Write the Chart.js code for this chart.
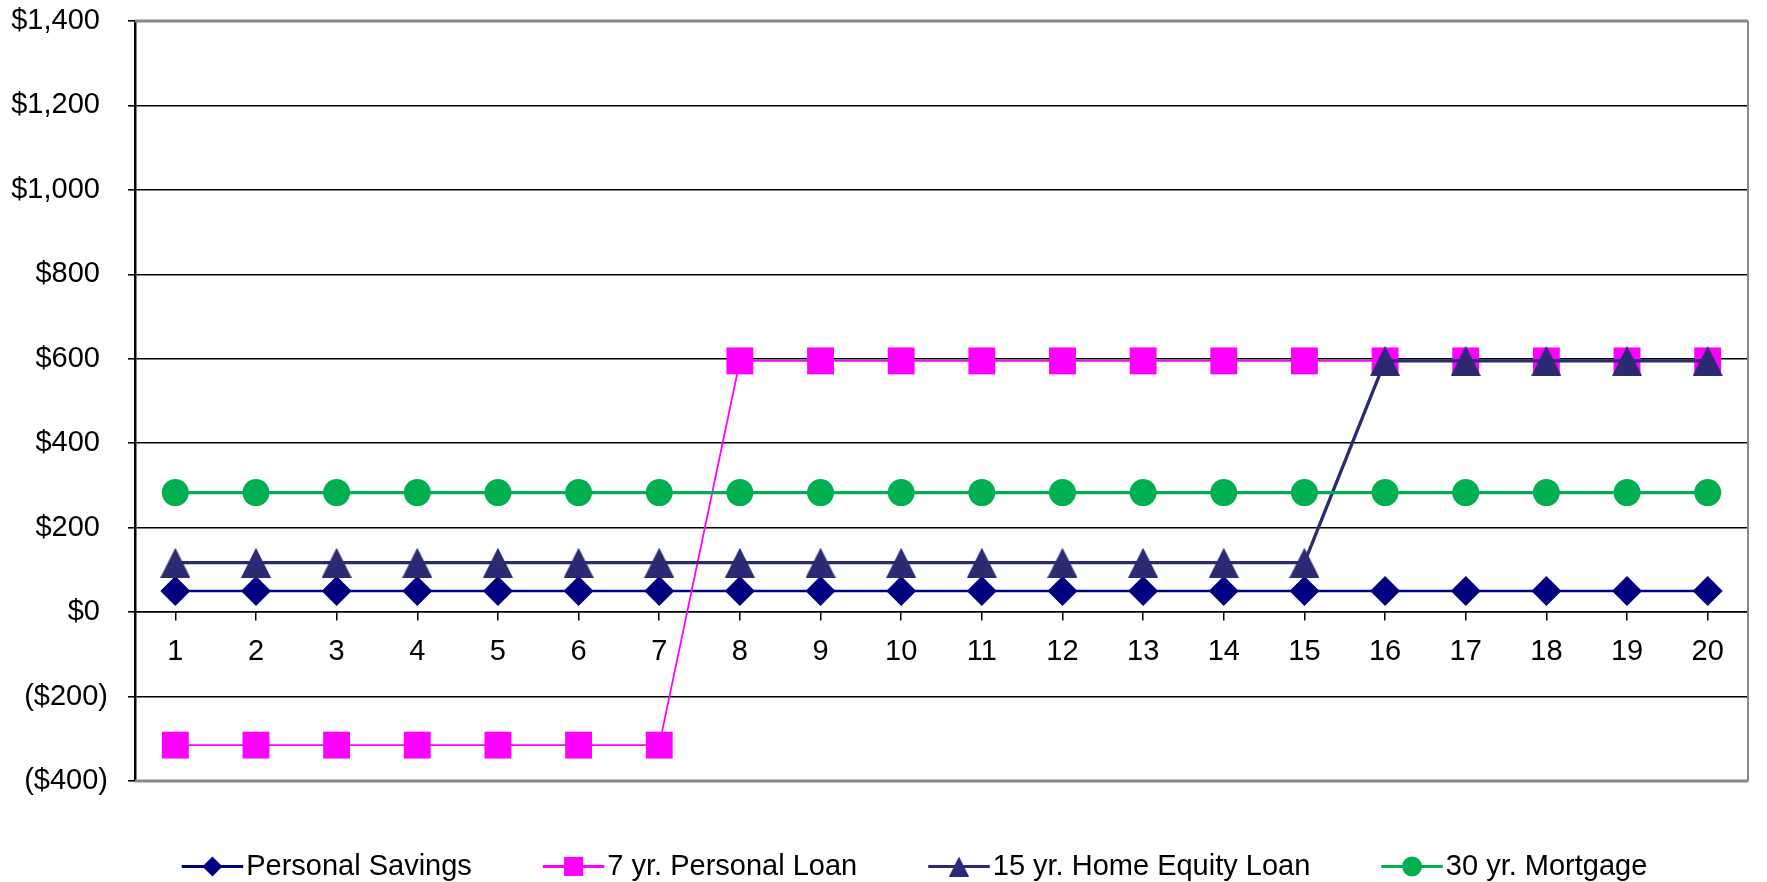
<!DOCTYPE html>
<html>
<head>
<meta charset="utf-8">
<script src="https://cdn.jsdelivr.net/npm/chart.js@4/dist/chart.umd.min.js"></script>
<style>
  html, body { margin: 0; padding: 0; background: #fff; }
  #wrap { width: 1767px; height: 882px; }
</style>
</head>
<body>
<div id="wrap"><canvas id="loanChart" width="1767" height="882"></canvas></div>
<script>
// Chart data
const years = ['1', '2', '3', '4', '5', '6', '7', '8', '9', '10',
               '11', '12', '13', '14', '15', '16', '17', '18', '19', '20'];
const personalSavings = [50, 50, 50, 50, 50, 50, 50, 50, 50, 50,
                         50, 50, 50, 50, 50, 50, 50, 50, 50, 50];
const personalLoan = [-315, -315, -315, -315, -315, -315, -315, 595, 595, 595,
                      595, 595, 595, 595, 595, 595, 595, 595, 595, 595];
const homeEquityLoan = [117, 117, 117, 117, 117, 117, 117, 117, 117, 117,
                        117, 117, 117, 117, 117, 595, 595, 595, 595, 595];
const mortgage = [283, 283, 283, 283, 283, 283, 283, 283, 283, 283,
                  283, 283, 283, 283, 283, 283, 283, 283, 283, 283];
const yTickValues = [-400, -200, 0, 200, 400, 600, 800, 1000, 1200, 1400];

const FONT = '"Liberation Sans", Arial, sans-serif';
Chart.defaults.font.family = FONT;
Chart.defaults.color = '#000';

// triangle centred on its box, like the spreadsheet marker
function triangleMarker(size, color) {
    const c = document.createElement('canvas');
    c.width = size; c.height = size;
    const g = c.getContext('2d');
    g.fillStyle = color;
    g.beginPath();
    g.moveTo(size / 2, 0);
    g.lineTo(size, size);
    g.lineTo(0, size);
    g.closePath();
    g.fill();
    return c;
}

const EQUITY_COLOR = '#2B2A73';
const triBig = triangleMarker(30, EQUITY_COLOR);
const triSmall = triangleMarker(20, EQUITY_COLOR);

// frame: gray top / bottom / right edges
const framePlugin = {
    id: 'frame',
    afterLayout(chart) {
        // legend sits a bit right of the page centre
        const lg = chart.legend;
        if (lg) { lg.left += 32; lg.right += 32; }
    },
    afterDraw(chart) {
        const { ctx, chartArea: a } = chart;
        ctx.save();
        ctx.strokeStyle = '#888';
        ctx.lineWidth = 3;
        ctx.beginPath();
        ctx.moveTo(a.left, a.top); ctx.lineTo(a.right, a.top);
        ctx.moveTo(a.left, a.bottom); ctx.lineTo(a.right, a.bottom);
        ctx.stroke();
        ctx.lineWidth = 2;
        ctx.beginPath();
        ctx.moveTo(a.right, a.top); ctx.lineTo(a.right, a.bottom);
        ctx.stroke();
        ctx.restore();
    }
};

// legend symbols: line with marker through it
const legendMarkers = [
    { style: 'rectRot', radius: 10 },
    { style: 'rect', radius: 13.5 },
    { style: triSmall, radius: 10 },
    { style: 'circle', radius: 10 }
];
const legendLinePlugin = {
    id: 'legendLines',
    afterDraw(chart) {
        const lg = chart.legend;
        if (!lg || !lg.legendHitBoxes) return;
        const ctx = chart.ctx;
        const boxW = lg.options.labels.boxWidth;
        const half = lg.options.labels.font.size / 2;
        lg.legendHitBoxes.forEach((hb, i) => {
            const ds = chart.data.datasets[i];
            const len = boxW + half - 3;
            const cy = hb.top + hb.height / 2;
            ctx.save();
            ctx.strokeStyle = ds.borderColor;
            ctx.lineWidth = 3;
            ctx.beginPath();
            ctx.moveTo(hb.left, cy);
            ctx.lineTo(hb.left + len, cy);
            ctx.stroke();
            ctx.fillStyle = ds.borderColor;
            ctx.strokeStyle = ds.borderColor;
            ctx.lineWidth = 0;
            const m = legendMarkers[i];
            Chart.helpers.drawPoint(ctx, { pointStyle: m.style, radius: m.radius, rotation: 0, borderWidth: 0 },
                hb.left + len / 2, cy);
            ctx.restore();
        });
    }
};

function money(v) {
    const s = Math.abs(v).toLocaleString('en-US');
    return v < 0 ? '($' + s + ')' : '$' + s + ' ';
}

const ctx = document.getElementById('loanChart').getContext('2d');
new Chart(ctx, {
    type: 'line',
    data: {
        labels: years,
        datasets: [
            {
                label: 'Personal Savings',
                data: personalSavings,
                borderColor: '#000080',
                backgroundColor: '#000080',
                borderWidth: 2.5,
                pointStyle: 'rectRot',
                pointRadius: 15,
                pointBorderWidth: 0,
                order: 4
            },
            {
                label: '7 yr. Personal Loan',
                data: personalLoan,
                borderColor: '#FF00FF',
                backgroundColor: '#FF00FF',
                borderWidth: 1.8,
                pointStyle: 'rect',
                pointRadius: 19,
                pointBorderWidth: 0,
                order: 3
            },
            {
                label: '15 yr. Home Equity Loan',
                data: homeEquityLoan,
                borderColor: EQUITY_COLOR,
                backgroundColor: EQUITY_COLOR,
                borderWidth: 3.3,
                pointStyle: triBig,
                pointRadius: 15,
                pointBorderWidth: 0,
                order: 2
            },
            {
                label: '30 yr. Mortgage',
                data: mortgage,
                borderColor: '#00B050',
                backgroundColor: '#00B050',
                borderWidth: 3.3,
                pointStyle: 'circle',
                pointRadius: 13.5,
                pointBorderWidth: 0,
                order: 1
            }
        ]
    },
    options: {
        responsive: false,
        animation: false,
        layout: { padding: { left: 0, right: 2, top: 21, bottom: -9 } },
        scales: {
            x: {
                type: 'category',
                position: { y: 0 },
                offset: true,
                grid: {
                    display: true,
                    drawOnChartArea: false,
                    drawTicks: true,
                    tickLength: 8,
                    color: '#000',
                    lineWidth: 1.5
                },
                border: { display: true, color: '#000', width: 1.5 },
                ticks: {
                    autoSkip: false,
                    maxRotation: 0,
                    padding: 14,
                    font: { size: 29 },
                    color: '#000'
                }
            },
            y: {
                min: -400,
                max: 1400,
                afterBuildTicks: s => { s.ticks = yTickValues.map(v => ({ value: v })); },
                afterFit: s => {
                    s.width = 135;
                    s.paddingTop = 0;
                    s.paddingBottom = 0;
                },
                grid: {
                    color: '#000',
                    lineWidth: 1.6,
                    drawTicks: true,
                    tickLength: 7,
                    tickColor: '#000'
                },
                border: { display: true, color: '#000', width: 2.5 },
                ticks: {
                    padding: 20,
                    font: { size: 29 },
                    color: '#000',
                    callback: v => money(v)
                }
            }
        },
        plugins: {
            legend: {
                position: 'bottom',
                align: 'center',
                labels: {
                    boxWidth: 50,
                    boxHeight: 10,
                    padding: 71,
                    font: { size: 29 },
                    color: '#000',
                    generateLabels: chart => chart.data.datasets.map((ds, i) => ({
                        text: ds.label,
                        fillStyle: 'rgba(0,0,0,0)',
                        strokeStyle: 'rgba(0,0,0,0)',
                        lineWidth: 0,
                        datasetIndex: i,
                        hidden: false
                    }))
                }
            },
            tooltip: { enabled: false }
        }
    },
    plugins: [framePlugin, legendLinePlugin]
});
</script>
</body>
</html>
